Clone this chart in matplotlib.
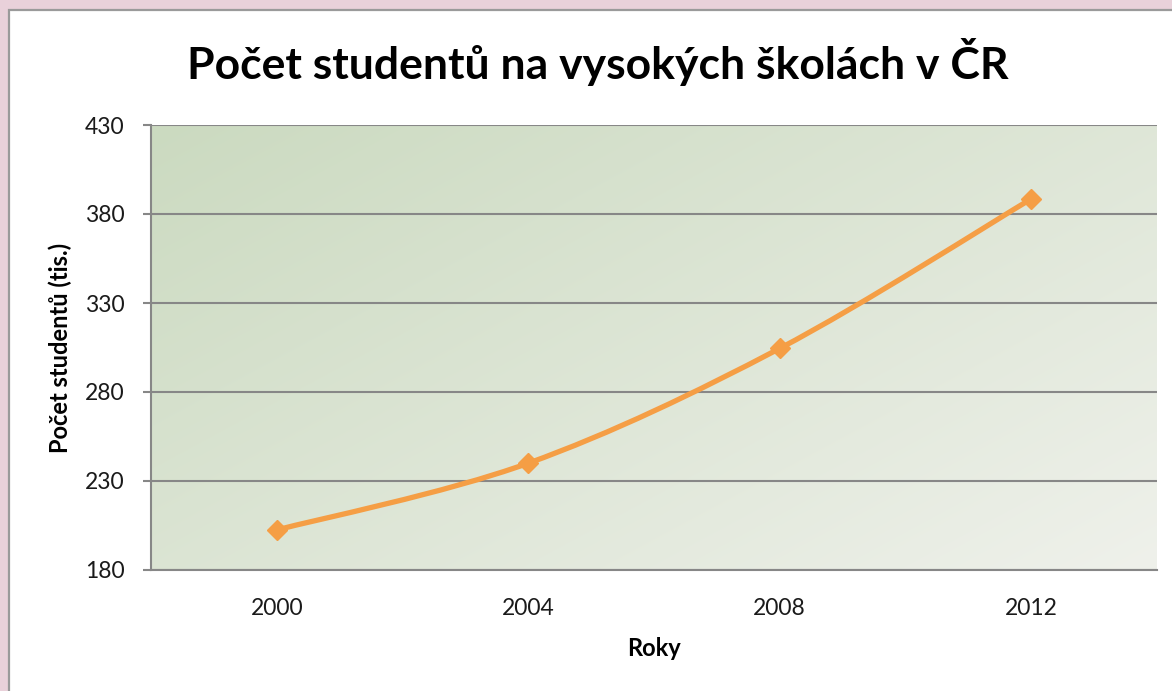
import numpy as np
import matplotlib
matplotlib.use("Agg")
import matplotlib.pyplot as plt
from matplotlib.path import Path
from matplotlib.patches import PathPatch, Rectangle

# ---- data ----
years = ["2000", "2004", "2008", "2012"]
students = [202.5, 240.0, 304.5, 388.5]  # thousands
y_ticks = [180, 230, 280, 330, 380, 430]

title = "Počet studentů na vysokých školách v ČR"
ylabel = "Počet studentů (tis.)"
xlabel = "Roky"

W, H = 1172, 691
fig = plt.figure(figsize=(W / 100, H / 100), dpi=100)
fig.patch.set_facecolor("#E9D1DA")

# white chart area with grey border
fig.patches.append(Rectangle((9 / W, -0.05), 1.2, 1 - 10 / H + 0.05,
                             transform=fig.transFigure, facecolor="white",
                             edgecolor="#9A9A9A", linewidth=1.6, zorder=-10))

ax = fig.add_axes([151 / W, 1 - 570 / H, (1157 - 151) / W, (570 - 125) / H])
ax.set_zorder(1)
ax.set_facecolor("none")

x = np.arange(len(years))

# gradient background
gx, gy = np.meshgrid(np.linspace(0, 1, 300), np.linspace(0, 1, 200))
t = np.clip((gx * 0.55 + gy * 0.45), 0, 1)
c0 = np.array([203, 218, 192]) / 255.0
c1 = np.array([239, 241, 235]) / 255.0
img = c0[None, None, :] * (1 - t[..., None]) + c1[None, None, :] * t[..., None]
ax.imshow(img, extent=[-0.5, len(years) - 0.5, y_ticks[0], y_ticks[-1]],
          origin="upper", aspect="auto", zorder=0, interpolation="bilinear")
ax.set_xlim(-0.5, len(years) - 0.5)
ax.set_ylim(y_ticks[0], y_ticks[-1])

# grid
ax.set_yticks(y_ticks)
ax.yaxis.grid(True, color="#878787", linewidth=1.5, zorder=1)
ax.set_axisbelow(False)

# smoothed line (Catmull-Rom -> Bezier)
pts = np.column_stack([x, students]).astype(float)
n = len(pts)
verts = [pts[0]]
codes = [Path.MOVETO]
for i in range(n - 1):
    p0 = pts[i - 1] if i > 0 else pts[i]
    p1 = pts[i]
    p2 = pts[i + 1]
    p3 = pts[i + 2] if i + 2 < n else pts[i + 1]
    c1p = p1 + (p2 - p0) / 6.0
    c2p = p2 - (p3 - p1) / 6.0
    verts += [c1p, c2p, p2]
    codes += [Path.CURVE4] * 3
line_color = "#F59E45"
ax.add_patch(PathPatch(Path(verts, codes), facecolor="none", edgecolor=line_color,
                       linewidth=3.8, capstyle="round", joinstyle="round", zorder=3))
ax.plot(x, students, linestyle="none", marker="D", markersize=10,
        color=line_color, zorder=4)

# axes styling
for s in ["top", "right"]:
    ax.spines[s].set_visible(False)
for s in ["left", "bottom"]:
    ax.spines[s].set_color("#878787")
    ax.spines[s].set_linewidth(1.5)

font = "Lato"
ax.set_xticks(x)
ax.set_xticklabels(years, fontfamily=font, fontsize=16.5, color="#1a1a1a")
ax.set_yticklabels([str(v) for v in y_ticks], fontfamily=font, fontsize=16.5, color="#1a1a1a")
ax.tick_params(axis="x", length=0, pad=20)
ax.tick_params(axis="y", length=6, width=1.5, color="#878787", pad=13)

ax.set_ylabel(ylabel, fontfamily=font, fontweight="bold", fontsize=17, color="black")
ax.yaxis.label.set_va("center")
ax.yaxis.set_label_coords((60 - 151) / (1157 - 151), 0.5)
ax.set_xlabel(xlabel, fontfamily=font, fontweight="bold", fontsize=17, color="black")
ax.xaxis.label.set_va("center")
ax.xaxis.set_label_coords(0.5, -(648 - 570) / (570 - 125))

fig.text(598 / W, 1 - 62 / H, title, ha="center", va="center",
         fontfamily=font, fontweight="bold", fontsize=32, color="black")

fig.savefig("out.png", dpi=100, facecolor=fig.get_facecolor())
